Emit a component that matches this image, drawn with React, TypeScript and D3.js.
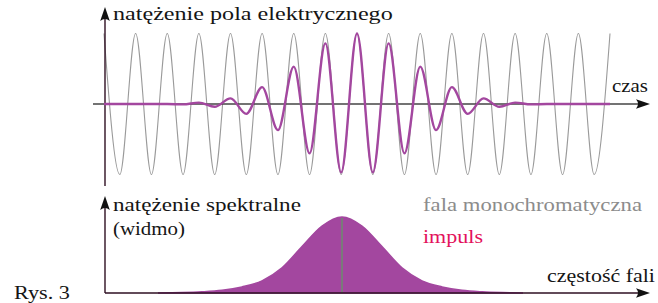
import React, { useLayoutEffect, useRef, useState } from 'react';
import * as d3 from 'd3';

// time measured in half-periods of the carrier wave (extrema of the field)
const timeSteps = [0, 1, 2, 3, 4, 5, 6, 7, 8, 9, 10, 11, 12, 13, 14, 15, 16, 17, 18, 19, 20, 21, 22, 23, 24, 25, 26, 27, 28, 29, 30, 31, 32];
// monochromatic wave: constant amplitude
const monoField = [1, -1, 1, -1, 1, -1, 1, -1, 1, -1, 1, -1, 1, -1, 1, -1, 1, -1, 1, -1, 1, -1, 1, -1, 1, -1, 1, -1, 1, -1, 1, -1, 1];
// pulse: same carrier, bell-shaped envelope
const pulseField = [0, 0, 0, 0, 0, -0.005, 0.02, -0.04, 0.08, -0.14, 0.24, -0.37, 0.53, -0.7, 0.86, -0.97, 1, -0.97, 0.86, -0.7, 0.53, -0.37, 0.24, -0.14, 0.08, -0.04, 0.02, -0.005, 0, 0, 0, 0, 0];

// spectrum (frequency offset from the carrier, arbitrary units)
const specFreq = [-9.2, -8, -7, -6, -5, -4, -3, -2, -1, 0, 1, 2, 3, 4, 5, 6, 7, 8, 9.05];
const specPulse = [0, 0.005, 0.015, 0.035, 0.08, 0.16, 0.33, 0.61, 0.88, 1, 0.88, 0.61, 0.33, 0.16, 0.08, 0.035, 0.015, 0.005, 0];
const monoFreq = 0;

const PURPLE = '#a3479f';
const GRAY = '#9a9a9a';
const AXIS = '#2e0f22';

const arrow = (x: number, y: number, angle: number, color: string) => (
  <path
    d="M0,0 L-14,-4.8 Q-10,0 -14,4.8 Z"
    fill={color}
    transform={`translate(${x},${y}) rotate(${angle})`}
  />
);

// serif label stretched horizontally to the width it has in the figure
const Label = ({ x, y, w, color = '#151515', children }: { x: number; y: number; w: number; color?: string; children: string }) => {
  const ref = useRef<SVGTextElement>(null);
  const [sx, setSx] = useState(1);
  useLayoutEffect(() => {
    if (ref.current) {
      const len = ref.current.getComputedTextLength();
      if (len > 0) setSx(w / len);
    }
  }, [w, children]);
  return (
    <g transform={`translate(${x},${y}) scale(${sx},1)`}>
      <text ref={ref} fill={color} fontFamily="Liberation Serif" fontSize={18}>
        {children}
      </text>
    </g>
  );
};

export default function App() {
  const x = d3.scaleLinear().domain([0, 32]).range([104, 610]);
  const y = d3.scaleLinear().domain([-1, 1]).range([174.5, 33.5]);

  const wave = d3.line<number>()
    .x((d, i) => x(timeSteps[i]))
    .y(d => y(d))
    .curve(d3.curveMonotoneX);

  const xs = d3.scaleLinear().domain([-9.2, 9.05]).range([158, 523]);
  const ys = d3.scaleLinear().domain([0, 1]).range([293, 217]);

  const spec = d3.area<number>()
    .x((d, i) => xs(specFreq[i]))
    .y0(ys(0))
    .y1(d => ys(d))
    .curve(d3.curveMonotoneX);

  return (
    <div style={{ position: 'fixed', left: 0, top: 0 }}>
      <svg width={658} height={303} style={{ display: 'block', background: '#fff' }}>
        {/* top panel: field vs time */}
        <path d={wave(monoField) || ''} fill="none" stroke={GRAY} strokeWidth={1.1} />
        <line x1={93} x2={640} y1={y(0)} y2={y(0)} stroke="#444" strokeWidth={1.4} />
        {arrow(650, y(0), 0, '#111')}
        <line x1={105} x2={105} y1={19} y2={186} stroke={AXIS} strokeWidth={1.4} />
        {arrow(105, 7, -90, '#111')}
        <path d={wave(pulseField) || ''} fill="none" stroke={PURPLE} strokeWidth={2.4} />

        <Label x={113} y={20} w={280}>natężenie pola elektrycznego</Label>
        <Label x={612} y={92} w={36}>czas</Label>

        {/* bottom panel: spectrum */}
        <path d={spec(specPulse) || ''} fill={PURPLE} stroke={PURPLE} strokeWidth={1.5} />
        <line x1={xs(monoFreq)} x2={xs(monoFreq)} y1={ys(0)} y2={ys(1) + 1} stroke="#7a7a7a" strokeWidth={2} />
        <line x1={105} x2={640} y1={ys(0)} y2={ys(0)} stroke={AXIS} strokeWidth={1.4} />
        {arrow(650, ys(0), 0, '#111')}
        <line x1={105} x2={105} y1={207} y2={ys(0)} stroke={AXIS} strokeWidth={1.4} />
        {arrow(105, 196, -90, '#111')}

        <Label x={113} y={211} w={188}>natężenie spektralne</Label>
        <Label x={113} y={235} w={72}>(widmo)</Label>
        <Label x={423} y={211} w={219} color="#8c8c8c">fala monochromatyczna</Label>
        <Label x={423} y={243} w={60} color="#e3125c">impuls</Label>
        <Label x={547} y={282} w={108}>częstość fali</Label>
        <Label x={14} y={299} w={56}>Rys. 3</Label>
      </svg>
    </div>
  );
}
